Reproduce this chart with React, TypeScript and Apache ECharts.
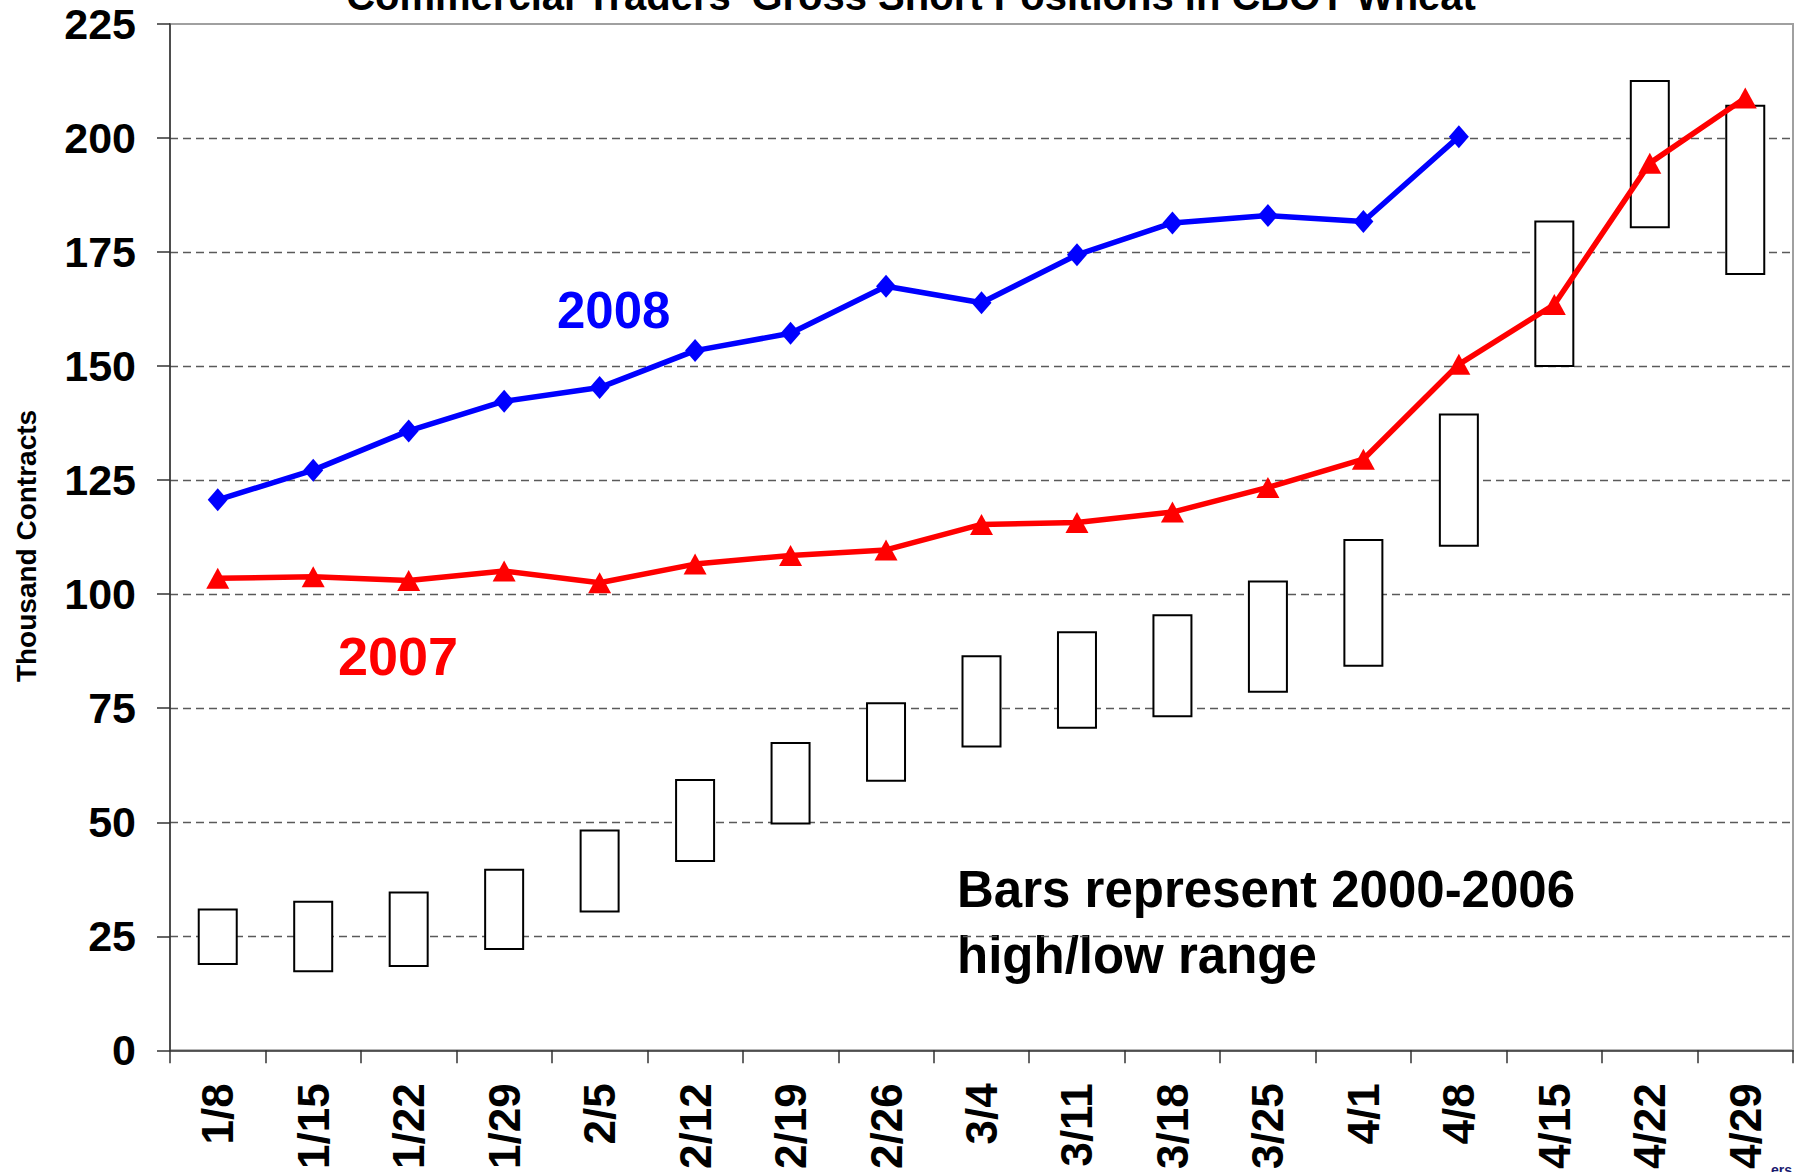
import React, { useEffect, useRef } from "react";
import * as echarts from "echarts";

const FONT = 'Arial, "Liberation Sans", Helvetica, sans-serif';

const TITLE = "Commercial Traders' Gross Short Positions in CBOT Wheat";
const Y_NAME = "Thousand Contracts";

const categories = [
  "1/8", "1/15", "1/22", "1/29", "2/5", "2/12", "2/19", "2/26", "3/4",
  "3/11", "3/18", "3/25", "4/1", "4/8", "4/15", "4/22", "4/29",
];

const values2008: (number | null)[] = [
  120.7, 127.2, 135.8, 142.3, 145.3, 153.4, 157.2, 167.5, 163.9,
  174.4, 181.4, 183.0, 181.7, 200.3, null, null, null,
];

const values2007 = [
  103.5, 103.8, 103.0, 105.1, 102.5, 106.6, 108.5, 109.7, 115.3,
  115.7, 118.0, 123.4, 129.6, 150.4, 163.5, 194.5, 208.8,
];

// 2000-2006 high/low range
const rangeLow = [
  18.7, 17.1, 18.3, 22.0, 30.2, 41.3, 49.5, 58.9, 66.4,
  70.5, 73.0, 78.4, 84.1, 110.4, 149.8, 180.2, 170.0,
];
const rangeHigh = [
  31.1, 32.8, 34.8, 39.8, 48.4, 59.5, 67.6, 76.3, 86.6,
  91.9, 95.6, 103.0, 112.1, 139.6, 181.9, 212.7, 207.3,
];

const Y_MIN = 0;
const Y_MAX = 225;
const Y_INTERVAL = 25;

export default function App() {
  const ref = useRef<HTMLDivElement>(null);

  useEffect(() => {
    if (!ref.current) return;
    const chart = echarts.init(ref.current, null, { renderer: "svg" });

    const rangeSpan = rangeHigh.map((h, i) => +(h - rangeLow[i]).toFixed(2));

    chart.setOption({
      animation: false,
      backgroundColor: "#ffffff",
      grid: {
        left: 170,
        right: 4,
        top: 24,
        bottom: 120,
        show: true,
        borderColor: "#a0a0a0",
        borderWidth: 2,
        backgroundColor: "transparent",
      },
      xAxis: {
        type: "category",
        data: categories,
        boundaryGap: true,
        axisLine: { show: true, lineStyle: { color: "#333", width: 1.5 } },
        axisTick: {
          show: true,
          length: 13,
          interval: 0,
          alignWithLabel: false,
          lineStyle: { color: "#333", width: 1.5 },
        },
        axisLabel: {
          rotate: 90,
          interval: 0,
          margin: 33,
          fontSize: 44,
          fontWeight: "bold",
          fontFamily: FONT,
          color: "#000",
        },
        splitLine: { show: false },
      },
      yAxis: {
        type: "value",
        min: Y_MIN,
        max: Y_MAX,
        interval: Y_INTERVAL,
        axisLine: { show: true, lineStyle: { color: "#333", width: 1.5 } },
        axisTick: { show: true, length: 13, lineStyle: { color: "#333", width: 1.5 } },
        axisLabel: {
          margin: 34,
          fontSize: 43,
          fontWeight: "bold",
          fontFamily: FONT,
          color: "#000",
        },
        splitLine: {
          show: true,
          showMinLine: false,
          showMaxLine: false,
          lineStyle: { type: [8, 5], color: "#5a5a5a", width: 1.3 },
        },
      },
      graphic: [
        {
          type: "text",
          x: 911,
          y: -4,
          style: {
            text: TITLE,
            fontSize: 40,
            fontWeight: "bold",
            fontFamily: FONT,
            fill: "#000",
            align: "center",
            verticalAlign: "middle",
          },
        },
        {
          type: "text",
          x: 26,
          y: 546,
          rotation: Math.PI / 2,
          style: {
            text: Y_NAME,
            fontSize: 28,
            fontWeight: "bold",
            fontFamily: FONT,
            fill: "#000",
            align: "center",
            verticalAlign: "middle",
          },
        },
        {
          type: "text",
          x: 557,
          y: 310.5,
          style: {
            text: "2008",
            fontSize: 51,
            fontWeight: "bold",
            fontFamily: FONT,
            fill: "#0000ff",
            align: "left",
            verticalAlign: "middle",
          },
        },
        {
          type: "text",
          x: 338,
          y: 656,
          style: {
            text: "2007",
            fontSize: 54,
            fontWeight: "bold",
            fontFamily: FONT,
            fill: "#ff0000",
            align: "left",
            verticalAlign: "middle",
          },
        },
        {
          type: "text",
          x: 957,
          y: 889.5,
          style: {
            text: "Bars represent 2000-2006",
            fontSize: 51,
            fontWeight: "bold",
            fontFamily: FONT,
            fill: "#000",
            align: "left",
            verticalAlign: "middle",
          },
        },
        {
          type: "text",
          x: 957,
          y: 955.5,
          style: {
            text: "high/low range",
            fontSize: 51,
            fontWeight: "bold",
            fontFamily: FONT,
            fill: "#000",
            align: "left",
            verticalAlign: "middle",
          },
        },
        {
          type: "text",
          x: 1771,
          y: 1170,
          style: {
            text: "ers",
            fontSize: 14,
            fontWeight: "bold",
            fontFamily: FONT,
            fill: "#1a1a6e",
            align: "left",
            verticalAlign: "middle",
          },
        },
      ],
      series: [
        {
          name: "low",
          type: "bar",
          stack: "range",
          data: rangeLow,
          barWidth: 40,
          silent: true,
          itemStyle: { color: "transparent", borderWidth: 0 },
          emphasis: { disabled: true },
        },
        {
          name: "2000-2006 range",
          type: "bar",
          stack: "range",
          data: rangeSpan,
          barWidth: 40,
          silent: true,
          itemStyle: { color: "#ffffff", borderColor: "#000", borderWidth: 2 },
          emphasis: { disabled: true },
        },
        {
          name: "2007",
          type: "line",
          data: values2007,
          symbol: "triangle",
          symbolSize: [23, 21],
          lineStyle: { color: "#ff0000", width: 5.5 },
          itemStyle: { color: "#ff0000", borderWidth: 0 },
          silent: true,
          emphasis: { disabled: true },
          z: 3,
        },
        {
          name: "2008",
          type: "line",
          data: values2008,
          symbol: "diamond",
          symbolSize: [20, 23],
          lineStyle: { color: "#0000ff", width: 5.5 },
          itemStyle: { color: "#0000ff", borderWidth: 0 },
          silent: true,
          emphasis: { disabled: true },
          z: 3,
        },
      ],
    });

    return () => chart.dispose();
  }, []);

  return (
    <div
      ref={ref}
      style={{ position: "absolute", left: 0, top: 0, width: 1797, height: 1172, background: "#fff" }}
    />
  );
}
